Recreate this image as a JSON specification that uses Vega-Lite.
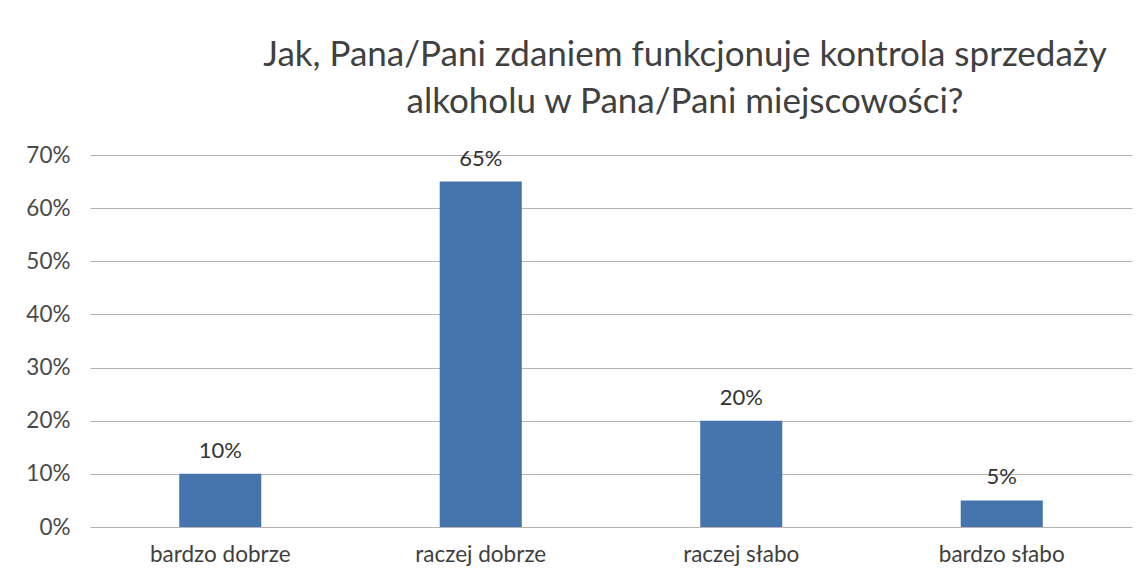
{
  "$schema": "https://vega.github.io/schema/vega-lite/v6.json",
  "width": 1042,
  "height": 372,
  "autosize": {"type": "none"},
  "padding": {"left": 90, "top": 155, "right": 14, "bottom": 60},
  "background": "white",
  "config": {
    "view": {"stroke": null},
    "font": "Lato"
  },
  "title": {
    "text": ["Jak, Pana/Pani zdaniem funkcjonuje kontrola sprzedaży", "alkoholu w Pana/Pani miejscowości?"],
    "fontSize": 35,
    "font": "Lato",
    "fontWeight": "normal",
    "color": "#404040",
    "lineHeight": 47,
    "anchor": "middle",
    "dx": 74,
    "offset": 24
  },
  "data": {
    "values": [
      {"kategoria": "bardzo dobrze", "wartosc": 0.10},
      {"kategoria": "raczej dobrze", "wartosc": 0.65},
      {"kategoria": "raczej słabo", "wartosc": 0.20},
      {"kategoria": "bardzo słabo", "wartosc": 0.05}
    ]
  },
  "encoding": {
    "x": {
      "field": "kategoria",
      "type": "nominal",
      "sort": null,
      "scale": {"paddingInner": 0.685, "paddingOuter": 0.3425},
      "axis": {
        "title": null,
        "labelAngle": 0,
        "domain": false,
        "ticks": false,
        "labelFontSize": 22.5,
        "labelColor": "#404040",
        "labelPadding": 16,
        "labelFont": "Lato"
      }
    },
    "y": {
      "field": "wartosc",
      "type": "quantitative",
      "scale": {"domain": [0, 0.7]},
      "axis": {
        "title": null,
        "format": ".0%",
        "values": [0, 0.1, 0.2, 0.3, 0.4, 0.5, 0.6, 0.7],
        "domain": false,
        "ticks": false,
        "labelFontSize": 22.5,
        "labelColor": "#4a4a4a",
        "labelPadding": 20,
        "labelFont": "Lato",
        "gridColor": "#b4b4b4",
        "gridWidth": 1.2
      }
    }
  },
  "layer": [
    {
      "mark": {"type": "bar", "color": "#4675ad"}
    },
    {
      "mark": {"type": "text", "dy": -23, "fontSize": 22, "color": "#333333", "font": "Lato"},
      "encoding": {
        "text": {"field": "wartosc", "type": "quantitative", "format": ".0%"}
      }
    }
  ]
}
